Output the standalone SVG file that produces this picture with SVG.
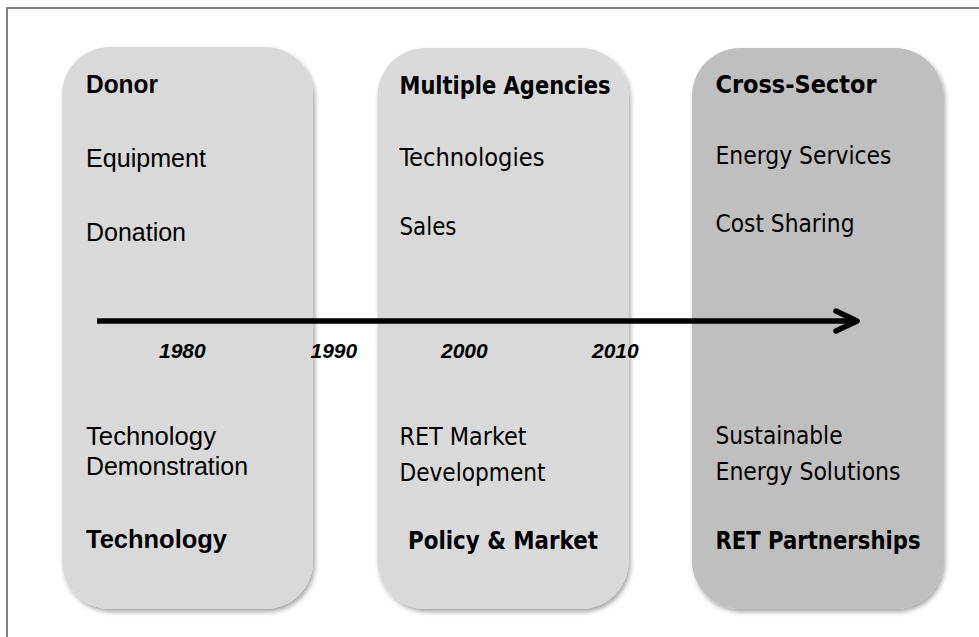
<svg xmlns="http://www.w3.org/2000/svg" width="979" height="637" viewBox="0 0 979 637">
  <defs>
    <filter id="shadow" x="-10%" y="-10%" width="125%" height="125%">
      <feDropShadow dx="2" dy="3" stdDeviation="2.5" flood-color="#000" flood-opacity="0.35"/>
    </filter>
    <style>
      .box { filter: url(#shadow); }
      .light { fill: #D9D9D9; }
      .dark { fill: #BFBFBF; }
      .arial { font-family: "Liberation Sans", Arial, sans-serif; font-size: 25px; fill: #000; }
      .tahoma { font-family: "DejaVu Sans Condensed", "DejaVu Sans", sans-serif; font-stretch: condensed; font-size: 24px; fill: #000; }
      .b { font-weight: bold; }
      .year { font-family: "Liberation Sans", Arial, sans-serif; font-size: 21px; font-weight: bold; font-style: italic; fill: #000; }
    </style>
  </defs>
  <rect x="0" y="0" width="979" height="637" fill="#FFFFFF"/>
  <rect id="frame" x="7" y="8" width="1000" height="700" fill="none" stroke="#808080" stroke-width="2"/>

  <g id="node-technology">
    <rect class="box light" x="62" y="47" width="251" height="562" rx="48" ry="48"/>
    <text class="arial b" x="86" y="93" textLength="72" lengthAdjust="spacingAndGlyphs">Donor</text>
    <text class="arial" x="86" y="166.5" textLength="120" lengthAdjust="spacingAndGlyphs">Equipment</text>
    <text class="arial" x="86" y="240.5" textLength="100" lengthAdjust="spacingAndGlyphs">Donation</text>
    <text class="arial" x="86" y="445" textLength="130" lengthAdjust="spacingAndGlyphs">Technology</text>
    <text class="arial" x="86" y="475" textLength="162" lengthAdjust="spacingAndGlyphs">Demonstration</text>
    <text class="arial b" x="86" y="548" textLength="141" lengthAdjust="spacingAndGlyphs">Technology</text>
  </g>

  <g id="node-policy-market">
    <rect class="box light" x="377.5" y="48" width="251" height="561" rx="48" ry="48"/>
    <text class="tahoma b" x="399.5" y="94" textLength="211" lengthAdjust="spacingAndGlyphs">Multiple Agencies</text>
    <text class="tahoma" x="399.5" y="166" textLength="145" lengthAdjust="spacingAndGlyphs">Technologies</text>
    <text class="tahoma" x="399.5" y="235" textLength="57" lengthAdjust="spacingAndGlyphs">Sales</text>
    <text class="tahoma" x="399.5" y="445" textLength="127" lengthAdjust="spacingAndGlyphs">RET Market</text>
    <text class="tahoma" x="399.5" y="481" textLength="146" lengthAdjust="spacingAndGlyphs">Development</text>
    <text class="tahoma b" x="408" y="549" textLength="190" lengthAdjust="spacingAndGlyphs">Policy &amp; Market</text>
  </g>

  <g id="node-ret-partnerships">
    <rect class="box dark" x="692" y="48" width="251" height="561" rx="48" ry="48"/>
    <text class="tahoma b" x="715.5" y="92.5" textLength="161" lengthAdjust="spacingAndGlyphs">Cross-Sector</text>
    <text class="tahoma" x="715.5" y="163.5" textLength="176" lengthAdjust="spacingAndGlyphs">Energy Services</text>
    <text class="tahoma" x="715.5" y="231.5" textLength="139" lengthAdjust="spacingAndGlyphs">Cost Sharing</text>
    <text class="tahoma" x="715.5" y="443.5" textLength="127" lengthAdjust="spacingAndGlyphs">Sustainable</text>
    <text class="tahoma" x="715.5" y="480" textLength="185" lengthAdjust="spacingAndGlyphs">Energy Solutions</text>
    <text class="tahoma b" x="715.5" y="549" textLength="205" lengthAdjust="spacingAndGlyphs">RET Partnerships</text>
  </g>

  <g id="connectors">
    <line x1="97" y1="321" x2="855" y2="321" stroke="#000" stroke-width="5.5"/>
    <polyline points="836,311 857,321 836,331" fill="none" stroke="#000" stroke-width="5.5" stroke-linecap="round" stroke-linejoin="round"/>
  </g>

  <g id="timeline-labels">
    <text class="year" x="159" y="358">1980</text>
    <text class="year" x="310.5" y="358">1990</text>
    <text class="year" x="441" y="358">2000</text>
    <text class="year" x="592" y="358">2010</text>
  </g>
</svg>
